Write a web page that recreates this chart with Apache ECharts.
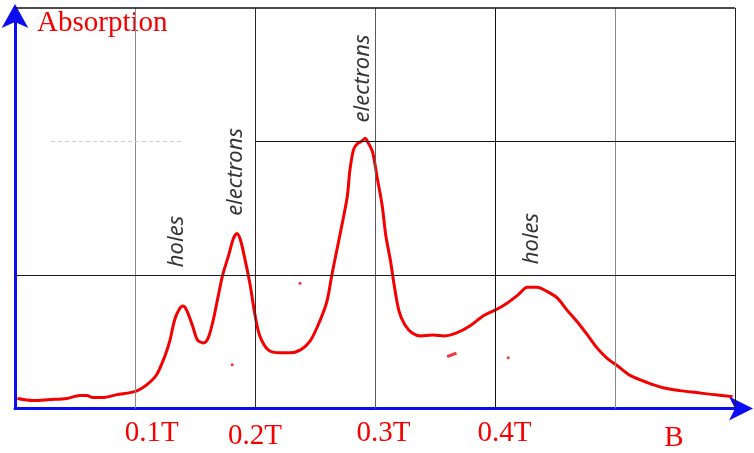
<!DOCTYPE html>
<html>
<head>
<meta charset="utf-8">
<script src="https://cdn.jsdelivr.net/npm/echarts@6.0.0/dist/echarts.min.js"></script>
<style>
  html, body { margin: 0; padding: 0; background: #ffffff; }
  #chart { width: 754px; height: 453px; }
</style>
</head>
<body>
<div id="chart"></div>
<script>
// ---------- data (magnetic field B in tesla, absorption in arbitrary units) ----------
const fieldB = [0.002, 0.015, 0.029, 0.043, 0.054, 0.060, 0.065, 0.073, 0.085, 0.096, 0.102, 0.110, 0.118, 0.125, 0.129, 0.133, 0.137, 0.140, 0.143, 0.148, 0.152, 0.157, 0.161, 0.165, 0.169, 0.173, 0.178, 0.182, 0.185, 0.188, 0.192, 0.196, 0.200, 0.204, 0.211, 0.221, 0.229, 0.238, 0.246, 0.254, 0.260, 0.264, 0.268, 0.273, 0.277, 0.279, 0.282, 0.285, 0.289, 0.292, 0.294, 0.298, 0.302, 0.306, 0.309, 0.313, 0.316, 0.320, 0.325, 0.331, 0.338, 0.348, 0.358, 0.368, 0.379, 0.390, 0.400, 0.410, 0.419, 0.427, 0.435, 0.443, 0.452, 0.460, 0.468, 0.477, 0.485, 0.493, 0.502, 0.513, 0.527, 0.540, 0.554, 0.568, 0.582, 0.598];
const absorption = [0.075, 0.060, 0.067, 0.075, 0.097, 0.097, 0.082, 0.082, 0.104, 0.119, 0.134, 0.179, 0.253, 0.395, 0.506, 0.663, 0.745, 0.767, 0.737, 0.618, 0.514, 0.491, 0.529, 0.655, 0.827, 0.998, 1.147, 1.273, 1.311, 1.258, 1.102, 0.923, 0.700, 0.544, 0.439, 0.417, 0.417, 0.439, 0.506, 0.655, 0.804, 0.998, 1.177, 1.400, 1.593, 1.780, 1.936, 1.981, 2.003, 2.025, 1.996, 1.921, 1.720, 1.519, 1.296, 1.102, 0.923, 0.730, 0.626, 0.566, 0.544, 0.551, 0.544, 0.566, 0.618, 0.693, 0.737, 0.789, 0.849, 0.908, 0.908, 0.879, 0.827, 0.737, 0.655, 0.551, 0.454, 0.380, 0.320, 0.246, 0.194, 0.156, 0.134, 0.119, 0.104, 0.089];

// tick labels of the B axis and where they sit (in tesla)
const xTickText = ['0.1T', '0.2T', '0.3T', '0.4T', 'B'];
const xTickAt = [0.114, 0.200, 0.307, 0.408, 0.549];

// rotated annotations
const annoText = ['holes', 'electrons', 'electrons', 'holes'];
const annoB = [0.135, 0.184, 0.290, 0.431];
const annoA = [1.251, 1.772, 2.472, 1.273];

// stray pen marks
const speckB = [0.181, 0.2375, 0.411];
const speckA = [0.328, 0.938, 0.380];
const dashB = [0.364];
const dashA = [0.402];

// grid of the sketch
const vGridB = [0.1, 0.2, 0.3, 0.4, 0.5, 0.6];
const hGridA = [1, 2, 3];
const hGridFrom = [0, 0.2, 0];

// ---------- styles ----------
const RED = '#f50000';
const BLUE = '#0d0df2';
const vGridColor = ['#8a8a8a', '#2a2a2a', '#5a5a5a', '#111111', '#8a8a8a', '#222222'];
const hGridColor = ['#1a1a1a', '#111111', '#111111'];

const gridLines = [];
vGridB.forEach((b, i) => {
  gridLines.push([
    { coord: [b, 0], lineStyle: { color: vGridColor[i], width: 1, type: 'solid' } },
    { coord: [b, 3] }
  ]);
});
hGridA.forEach((a, i) => {
  gridLines.push([
    { coord: [hGridFrom[i], a], lineStyle: { color: hGridColor[i], width: i === 2 ? 1.5 : 1, type: 'solid' } },
    { coord: [0.6, a] }
  ]);
});
// faint dotted remnant on the left of the upper line
gridLines.push([
  { coord: [0.03, 2], lineStyle: { color: '#cccccc', width: 1, type: [4, 3] } },
  { coord: [0.14, 2] }
]);

const chart = echarts.init(document.getElementById('chart'), null, { renderer: 'canvas' });

chart.setOption({
  animation: false,
  backgroundColor: '#ffffff',
  grid: { left: 15, right: 19, top: 8, bottom: 42, containLabel: false },
  xAxis: {
    type: 'value',
    min: 0,
    max: 0.6,
    interval: 0.1,
    axisLine: {
      show: true,
      symbol: ['none', 'arrow'],
      symbolSize: [18, 24],
      symbolOffset: [0, 18],
      lineStyle: { color: BLUE, width: 3 }
    },
    axisTick: { show: false },
    splitLine: { show: false },
    axisLabel: {
      show: true,
      customValues: xTickAt,
      margin: 10,
      verticalAlign: 'top',
      formatter: function (v) {
        let idx = 0, best = Infinity;
        xTickAt.forEach((t, i) => { const d = Math.abs(t - v); if (d < best) { best = d; idx = i; } });
        const key = idx === 1 ? 'b' : (idx === 4 ? 'c' : 'a');
        return '{' + key + '|' + xTickText[idx] + '}';
      },
      rich: {
        a: { fontFamily: 'Liberation Serif', fontSize: 29, color: RED, lineHeight: 30 },
        b: { fontFamily: 'Liberation Serif', fontSize: 29, color: RED, lineHeight: 36 },
        c: { fontFamily: 'Liberation Serif', fontSize: 29, color: RED, lineHeight: 40 }
      }
    }
  },
  yAxis: {
    type: 'value',
    min: 0,
    max: 3,
    interval: 1,
    name: 'Absorption',
    nameLocation: 'end',
    nameGap: -15,
    nameTextStyle: {
      fontFamily: 'Liberation Serif',
      fontSize: 29,
      color: RED,
      align: 'left',
      verticalAlign: 'middle',
      padding: [0, 0, 0, 22]
    },
    axisLine: {
      show: true,
      symbol: ['none', 'arrow'],
      symbolSize: [20, 24],
      symbolOffset: [0, 4],
      lineStyle: { color: BLUE, width: 3 }
    },
    axisTick: { show: false },
    axisLabel: { show: false },
    splitLine: { show: false }
  },
  series: [
    {
      name: 'grid',
      type: 'line',
      z: 1,
      silent: true,
      data: [[0, 0]],
      showSymbol: false,
      lineStyle: { opacity: 0 },
      markLine: {
        silent: true,
        symbol: ['none', 'none'],
        label: { show: false },
        animation: false,
        data: gridLines
      }
    },
    {
      name: 'trace',
      type: 'line',
      z: 4,
      data: fieldB.map((b, i) => [b, absorption[i]]),
      showSymbol: false,
      smooth: 0.3,
      lineStyle: { color: RED, width: 3 },
      itemStyle: { color: RED }
    },
    {
      name: 'specks',
      type: 'scatter',
      z: 4,
      data: speckB.map((b, i) => [b, speckA[i]]),
      symbol: 'circle',
      symbolSize: 3,
      itemStyle: { color: RED }
    },
    {
      name: 'dash',
      type: 'scatter',
      z: 4,
      data: dashB.map((b, i) => [b, dashA[i]]),
      symbol: 'rect',
      symbolSize: [10, 3],
      symbolRotate: 20,
      itemStyle: { color: RED }
    },
    {
      name: 'annotations',
      type: 'scatter',
      z: 5,
      data: annoB.map((b, i) => [b, annoA[i]]),
      symbolSize: 1,
      itemStyle: { color: 'rgba(0,0,0,0)' },
      label: {
        show: true,
        position: 'inside',
        rotate: 90,
        align: 'center',
        verticalAlign: 'middle',
        fontFamily: 'Noto Sans',
        fontStyle: 'italic',
        fontSize: 22,
        color: '#000000',
        formatter: function (p) { return annoText[p.dataIndex]; }
      }
    }
  ]
});
</script>
</body>
</html>
